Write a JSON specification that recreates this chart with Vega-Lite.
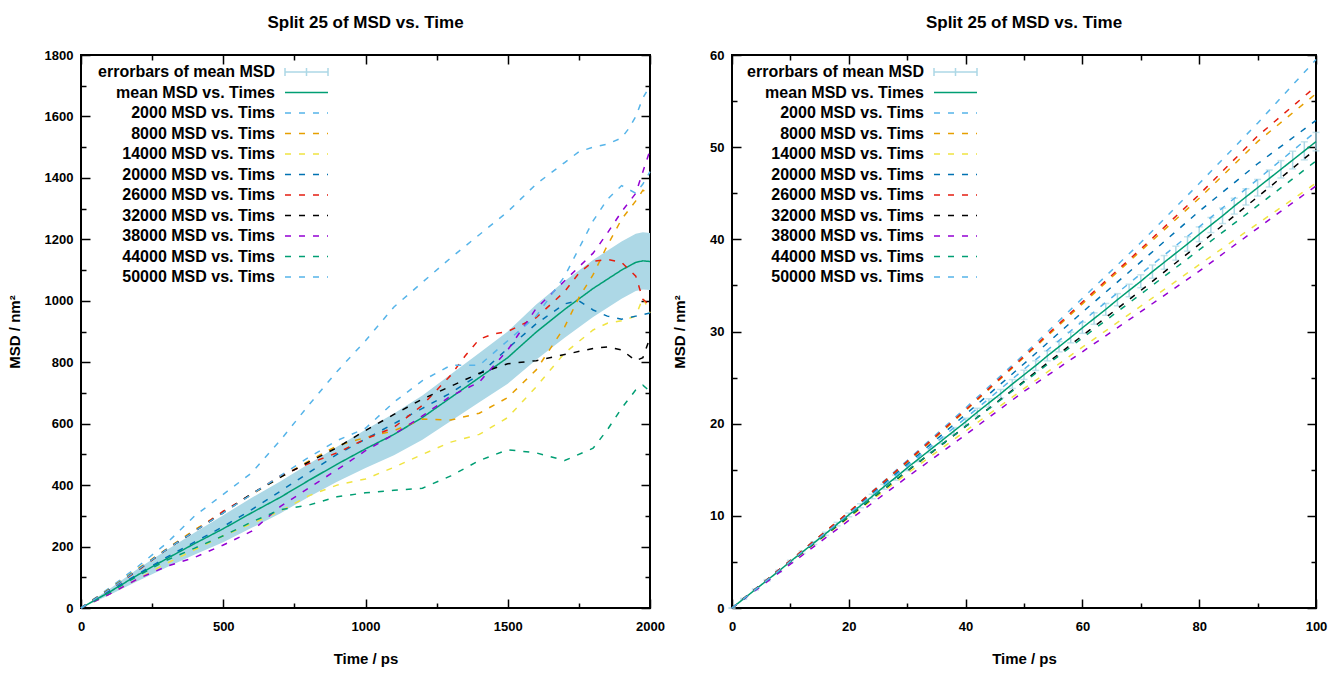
{
  "$schema": "https://vega.github.io/schema/vega-lite/v6.json",
  "background": "white",
  "padding": {"left": 6, "top": 13, "right": 5, "bottom": 5},
  "spacing": 5,
  "datasets": {
    "leftMean": [
      {"s": "mean MSD vs. Times", "t": 0, "msd": 0, "lo": 0, "hi": 0},
      {"s": "mean MSD vs. Times", "t": 100, "msd": 52, "lo": 42, "hi": 62},
      {"s": "mean MSD vs. Times", "t": 200, "msd": 108, "lo": 88, "hi": 128},
      {"s": "mean MSD vs. Times", "t": 300, "msd": 160, "lo": 132, "hi": 188},
      {"s": "mean MSD vs. Times", "t": 400, "msd": 210, "lo": 174, "hi": 246},
      {"s": "mean MSD vs. Times", "t": 500, "msd": 258, "lo": 214, "hi": 302},
      {"s": "mean MSD vs. Times", "t": 600, "msd": 310, "lo": 261, "hi": 359},
      {"s": "mean MSD vs. Times", "t": 700, "msd": 360, "lo": 308, "hi": 412},
      {"s": "mean MSD vs. Times", "t": 800, "msd": 415, "lo": 361, "hi": 469},
      {"s": "mean MSD vs. Times", "t": 900, "msd": 468, "lo": 411, "hi": 525},
      {"s": "mean MSD vs. Times", "t": 1000, "msd": 518, "lo": 456, "hi": 580},
      {"s": "mean MSD vs. Times", "t": 1100, "msd": 565, "lo": 497, "hi": 633},
      {"s": "mean MSD vs. Times", "t": 1200, "msd": 620, "lo": 548, "hi": 692},
      {"s": "mean MSD vs. Times", "t": 1300, "msd": 685, "lo": 609, "hi": 761},
      {"s": "mean MSD vs. Times", "t": 1400, "msd": 750, "lo": 670, "hi": 830},
      {"s": "mean MSD vs. Times", "t": 1500, "msd": 815, "lo": 730, "hi": 900},
      {"s": "mean MSD vs. Times", "t": 1600, "msd": 898, "lo": 808, "hi": 988},
      {"s": "mean MSD vs. Times", "t": 1700, "msd": 972, "lo": 880, "hi": 1064},
      {"s": "mean MSD vs. Times", "t": 1800, "msd": 1040, "lo": 947, "hi": 1133},
      {"s": "mean MSD vs. Times", "t": 1900, "msd": 1100, "lo": 1007, "hi": 1193},
      {"s": "mean MSD vs. Times", "t": 1950, "msd": 1125, "lo": 1032, "hi": 1218},
      {"s": "mean MSD vs. Times", "t": 1975, "msd": 1130, "lo": 1037, "hi": 1223},
      {"s": "mean MSD vs. Times", "t": 2000, "msd": 1128, "lo": 1035, "hi": 1221}
    ],
    "leftLines": [
      {"s": "2000 MSD vs. Tims", "t": 0, "v": 0}, {"s": "2000 MSD vs. Tims", "t": 100, "v": 65}, {"s": "2000 MSD vs. Tims", "t": 200, "v": 135}, {"s": "2000 MSD vs. Tims", "t": 300, "v": 210}, {"s": "2000 MSD vs. Tims", "t": 400, "v": 300}, {"s": "2000 MSD vs. Tims", "t": 500, "v": 370}, {"s": "2000 MSD vs. Tims", "t": 600, "v": 440}, {"s": "2000 MSD vs. Tims", "t": 700, "v": 545}, {"s": "2000 MSD vs. Tims", "t": 800, "v": 660}, {"s": "2000 MSD vs. Tims", "t": 900, "v": 770}, {"s": "2000 MSD vs. Tims", "t": 1000, "v": 870}, {"s": "2000 MSD vs. Tims", "t": 1100, "v": 980}, {"s": "2000 MSD vs. Tims", "t": 1200, "v": 1060}, {"s": "2000 MSD vs. Tims", "t": 1300, "v": 1140}, {"s": "2000 MSD vs. Tims", "t": 1400, "v": 1215}, {"s": "2000 MSD vs. Tims", "t": 1500, "v": 1290}, {"s": "2000 MSD vs. Tims", "t": 1600, "v": 1380}, {"s": "2000 MSD vs. Tims", "t": 1700, "v": 1450}, {"s": "2000 MSD vs. Tims", "t": 1750, "v": 1485}, {"s": "2000 MSD vs. Tims", "t": 1800, "v": 1500}, {"s": "2000 MSD vs. Tims", "t": 1850, "v": 1510}, {"s": "2000 MSD vs. Tims", "t": 1900, "v": 1530}, {"s": "2000 MSD vs. Tims", "t": 1925, "v": 1560}, {"s": "2000 MSD vs. Tims", "t": 1950, "v": 1600}, {"s": "2000 MSD vs. Tims", "t": 1975, "v": 1660}, {"s": "2000 MSD vs. Tims", "t": 2000, "v": 1700},
      {"s": "8000 MSD vs. Tims", "t": 0, "v": 0}, {"s": "8000 MSD vs. Tims", "t": 100, "v": 62}, {"s": "8000 MSD vs. Tims", "t": 200, "v": 128}, {"s": "8000 MSD vs. Tims", "t": 300, "v": 192}, {"s": "8000 MSD vs. Tims", "t": 400, "v": 255}, {"s": "8000 MSD vs. Tims", "t": 500, "v": 312}, {"s": "8000 MSD vs. Tims", "t": 600, "v": 370}, {"s": "8000 MSD vs. Tims", "t": 700, "v": 425}, {"s": "8000 MSD vs. Tims", "t": 800, "v": 478}, {"s": "8000 MSD vs. Tims", "t": 900, "v": 528}, {"s": "8000 MSD vs. Tims", "t": 1000, "v": 555}, {"s": "8000 MSD vs. Tims", "t": 1100, "v": 577}, {"s": "8000 MSD vs. Tims", "t": 1200, "v": 615}, {"s": "8000 MSD vs. Tims", "t": 1300, "v": 612}, {"s": "8000 MSD vs. Tims", "t": 1400, "v": 634}, {"s": "8000 MSD vs. Tims", "t": 1500, "v": 685}, {"s": "8000 MSD vs. Tims", "t": 1600, "v": 775}, {"s": "8000 MSD vs. Tims", "t": 1700, "v": 915}, {"s": "8000 MSD vs. Tims", "t": 1750, "v": 1010}, {"s": "8000 MSD vs. Tims", "t": 1800, "v": 1085}, {"s": "8000 MSD vs. Tims", "t": 1850, "v": 1180}, {"s": "8000 MSD vs. Tims", "t": 1900, "v": 1265}, {"s": "8000 MSD vs. Tims", "t": 1950, "v": 1325}, {"s": "8000 MSD vs. Tims", "t": 1975, "v": 1360}, {"s": "8000 MSD vs. Tims", "t": 2000, "v": 1350},
      {"s": "14000 MSD vs. Tims", "t": 0, "v": 0}, {"s": "14000 MSD vs. Tims", "t": 100, "v": 45}, {"s": "14000 MSD vs. Tims", "t": 200, "v": 95}, {"s": "14000 MSD vs. Tims", "t": 300, "v": 145}, {"s": "14000 MSD vs. Tims", "t": 400, "v": 190}, {"s": "14000 MSD vs. Tims", "t": 500, "v": 235}, {"s": "14000 MSD vs. Tims", "t": 600, "v": 275}, {"s": "14000 MSD vs. Tims", "t": 700, "v": 315}, {"s": "14000 MSD vs. Tims", "t": 800, "v": 365}, {"s": "14000 MSD vs. Tims", "t": 900, "v": 400}, {"s": "14000 MSD vs. Tims", "t": 1000, "v": 420}, {"s": "14000 MSD vs. Tims", "t": 1100, "v": 458}, {"s": "14000 MSD vs. Tims", "t": 1200, "v": 500}, {"s": "14000 MSD vs. Tims", "t": 1300, "v": 540}, {"s": "14000 MSD vs. Tims", "t": 1400, "v": 565}, {"s": "14000 MSD vs. Tims", "t": 1500, "v": 620}, {"s": "14000 MSD vs. Tims", "t": 1600, "v": 720}, {"s": "14000 MSD vs. Tims", "t": 1700, "v": 830}, {"s": "14000 MSD vs. Tims", "t": 1800, "v": 905}, {"s": "14000 MSD vs. Tims", "t": 1850, "v": 927}, {"s": "14000 MSD vs. Tims", "t": 1900, "v": 935}, {"s": "14000 MSD vs. Tims", "t": 1950, "v": 950}, {"s": "14000 MSD vs. Tims", "t": 1975, "v": 1010}, {"s": "14000 MSD vs. Tims", "t": 2000, "v": 960},
      {"s": "20000 MSD vs. Tims", "t": 0, "v": 0}, {"s": "20000 MSD vs. Tims", "t": 100, "v": 55}, {"s": "20000 MSD vs. Tims", "t": 200, "v": 110}, {"s": "20000 MSD vs. Tims", "t": 300, "v": 165}, {"s": "20000 MSD vs. Tims", "t": 400, "v": 215}, {"s": "20000 MSD vs. Tims", "t": 500, "v": 265}, {"s": "20000 MSD vs. Tims", "t": 600, "v": 320}, {"s": "20000 MSD vs. Tims", "t": 700, "v": 380}, {"s": "20000 MSD vs. Tims", "t": 800, "v": 440}, {"s": "20000 MSD vs. Tims", "t": 900, "v": 500}, {"s": "20000 MSD vs. Tims", "t": 1000, "v": 550}, {"s": "20000 MSD vs. Tims", "t": 1100, "v": 600}, {"s": "20000 MSD vs. Tims", "t": 1200, "v": 650}, {"s": "20000 MSD vs. Tims", "t": 1300, "v": 700}, {"s": "20000 MSD vs. Tims", "t": 1400, "v": 760}, {"s": "20000 MSD vs. Tims", "t": 1500, "v": 845}, {"s": "20000 MSD vs. Tims", "t": 1600, "v": 925}, {"s": "20000 MSD vs. Tims", "t": 1700, "v": 990}, {"s": "20000 MSD vs. Tims", "t": 1750, "v": 1000}, {"s": "20000 MSD vs. Tims", "t": 1800, "v": 970}, {"s": "20000 MSD vs. Tims", "t": 1850, "v": 950}, {"s": "20000 MSD vs. Tims", "t": 1900, "v": 940}, {"s": "20000 MSD vs. Tims", "t": 1950, "v": 950}, {"s": "20000 MSD vs. Tims", "t": 2000, "v": 960},
      {"s": "26000 MSD vs. Tims", "t": 0, "v": 0}, {"s": "26000 MSD vs. Tims", "t": 100, "v": 60}, {"s": "26000 MSD vs. Tims", "t": 200, "v": 122}, {"s": "26000 MSD vs. Tims", "t": 300, "v": 190}, {"s": "26000 MSD vs. Tims", "t": 400, "v": 250}, {"s": "26000 MSD vs. Tims", "t": 500, "v": 315}, {"s": "26000 MSD vs. Tims", "t": 600, "v": 370}, {"s": "26000 MSD vs. Tims", "t": 700, "v": 430}, {"s": "26000 MSD vs. Tims", "t": 800, "v": 470}, {"s": "26000 MSD vs. Tims", "t": 900, "v": 505}, {"s": "26000 MSD vs. Tims", "t": 1000, "v": 550}, {"s": "26000 MSD vs. Tims", "t": 1100, "v": 588}, {"s": "26000 MSD vs. Tims", "t": 1200, "v": 660}, {"s": "26000 MSD vs. Tims", "t": 1300, "v": 758}, {"s": "26000 MSD vs. Tims", "t": 1350, "v": 820}, {"s": "26000 MSD vs. Tims", "t": 1400, "v": 875}, {"s": "26000 MSD vs. Tims", "t": 1450, "v": 892}, {"s": "26000 MSD vs. Tims", "t": 1500, "v": 900}, {"s": "26000 MSD vs. Tims", "t": 1600, "v": 945}, {"s": "26000 MSD vs. Tims", "t": 1700, "v": 1030}, {"s": "26000 MSD vs. Tims", "t": 1750, "v": 1090}, {"s": "26000 MSD vs. Tims", "t": 1800, "v": 1128}, {"s": "26000 MSD vs. Tims", "t": 1850, "v": 1135}, {"s": "26000 MSD vs. Tims", "t": 1900, "v": 1125}, {"s": "26000 MSD vs. Tims", "t": 1950, "v": 1080}, {"s": "26000 MSD vs. Tims", "t": 1975, "v": 1005}, {"s": "26000 MSD vs. Tims", "t": 2000, "v": 985},
      {"s": "32000 MSD vs. Tims", "t": 0, "v": 0}, {"s": "32000 MSD vs. Tims", "t": 100, "v": 60}, {"s": "32000 MSD vs. Tims", "t": 200, "v": 125}, {"s": "32000 MSD vs. Tims", "t": 300, "v": 190}, {"s": "32000 MSD vs. Tims", "t": 400, "v": 250}, {"s": "32000 MSD vs. Tims", "t": 500, "v": 310}, {"s": "32000 MSD vs. Tims", "t": 600, "v": 372}, {"s": "32000 MSD vs. Tims", "t": 700, "v": 425}, {"s": "32000 MSD vs. Tims", "t": 800, "v": 475}, {"s": "32000 MSD vs. Tims", "t": 900, "v": 522}, {"s": "32000 MSD vs. Tims", "t": 1000, "v": 578}, {"s": "32000 MSD vs. Tims", "t": 1100, "v": 630}, {"s": "32000 MSD vs. Tims", "t": 1200, "v": 680}, {"s": "32000 MSD vs. Tims", "t": 1300, "v": 722}, {"s": "32000 MSD vs. Tims", "t": 1400, "v": 764}, {"s": "32000 MSD vs. Tims", "t": 1500, "v": 795}, {"s": "32000 MSD vs. Tims", "t": 1600, "v": 805}, {"s": "32000 MSD vs. Tims", "t": 1700, "v": 825}, {"s": "32000 MSD vs. Tims", "t": 1800, "v": 845}, {"s": "32000 MSD vs. Tims", "t": 1850, "v": 850}, {"s": "32000 MSD vs. Tims", "t": 1900, "v": 840}, {"s": "32000 MSD vs. Tims", "t": 1950, "v": 805}, {"s": "32000 MSD vs. Tims", "t": 1975, "v": 815}, {"s": "32000 MSD vs. Tims", "t": 2000, "v": 880},
      {"s": "38000 MSD vs. Tims", "t": 0, "v": 0}, {"s": "38000 MSD vs. Tims", "t": 100, "v": 45}, {"s": "38000 MSD vs. Tims", "t": 200, "v": 95}, {"s": "38000 MSD vs. Tims", "t": 300, "v": 135}, {"s": "38000 MSD vs. Tims", "t": 400, "v": 165}, {"s": "38000 MSD vs. Tims", "t": 500, "v": 205}, {"s": "38000 MSD vs. Tims", "t": 600, "v": 250}, {"s": "38000 MSD vs. Tims", "t": 700, "v": 330}, {"s": "38000 MSD vs. Tims", "t": 800, "v": 390}, {"s": "38000 MSD vs. Tims", "t": 900, "v": 450}, {"s": "38000 MSD vs. Tims", "t": 1000, "v": 512}, {"s": "38000 MSD vs. Tims", "t": 1100, "v": 565}, {"s": "38000 MSD vs. Tims", "t": 1200, "v": 625}, {"s": "38000 MSD vs. Tims", "t": 1300, "v": 690}, {"s": "38000 MSD vs. Tims", "t": 1400, "v": 735}, {"s": "38000 MSD vs. Tims", "t": 1500, "v": 840}, {"s": "38000 MSD vs. Tims", "t": 1600, "v": 975}, {"s": "38000 MSD vs. Tims", "t": 1700, "v": 1065}, {"s": "38000 MSD vs. Tims", "t": 1800, "v": 1155}, {"s": "38000 MSD vs. Tims", "t": 1850, "v": 1220}, {"s": "38000 MSD vs. Tims", "t": 1900, "v": 1290}, {"s": "38000 MSD vs. Tims", "t": 1950, "v": 1350}, {"s": "38000 MSD vs. Tims", "t": 1975, "v": 1420}, {"s": "38000 MSD vs. Tims", "t": 2000, "v": 1490},
      {"s": "44000 MSD vs. Tims", "t": 0, "v": 0}, {"s": "44000 MSD vs. Tims", "t": 100, "v": 50}, {"s": "44000 MSD vs. Tims", "t": 200, "v": 105}, {"s": "44000 MSD vs. Tims", "t": 300, "v": 155}, {"s": "44000 MSD vs. Tims", "t": 400, "v": 195}, {"s": "44000 MSD vs. Tims", "t": 500, "v": 235}, {"s": "44000 MSD vs. Tims", "t": 600, "v": 280}, {"s": "44000 MSD vs. Tims", "t": 700, "v": 320}, {"s": "44000 MSD vs. Tims", "t": 800, "v": 335}, {"s": "44000 MSD vs. Tims", "t": 900, "v": 362}, {"s": "44000 MSD vs. Tims", "t": 1000, "v": 375}, {"s": "44000 MSD vs. Tims", "t": 1100, "v": 383}, {"s": "44000 MSD vs. Tims", "t": 1200, "v": 390}, {"s": "44000 MSD vs. Tims", "t": 1300, "v": 430}, {"s": "44000 MSD vs. Tims", "t": 1400, "v": 480}, {"s": "44000 MSD vs. Tims", "t": 1500, "v": 515}, {"s": "44000 MSD vs. Tims", "t": 1600, "v": 505}, {"s": "44000 MSD vs. Tims", "t": 1700, "v": 480}, {"s": "44000 MSD vs. Tims", "t": 1800, "v": 520}, {"s": "44000 MSD vs. Tims", "t": 1850, "v": 580}, {"s": "44000 MSD vs. Tims", "t": 1900, "v": 650}, {"s": "44000 MSD vs. Tims", "t": 1950, "v": 710}, {"s": "44000 MSD vs. Tims", "t": 1975, "v": 725}, {"s": "44000 MSD vs. Tims", "t": 2000, "v": 705},
      {"s": "50000 MSD vs. Tims", "t": 0, "v": 0}, {"s": "50000 MSD vs. Tims", "t": 100, "v": 60}, {"s": "50000 MSD vs. Tims", "t": 200, "v": 125}, {"s": "50000 MSD vs. Tims", "t": 300, "v": 190}, {"s": "50000 MSD vs. Tims", "t": 400, "v": 250}, {"s": "50000 MSD vs. Tims", "t": 500, "v": 310}, {"s": "50000 MSD vs. Tims", "t": 600, "v": 370}, {"s": "50000 MSD vs. Tims", "t": 700, "v": 430}, {"s": "50000 MSD vs. Tims", "t": 800, "v": 490}, {"s": "50000 MSD vs. Tims", "t": 900, "v": 545}, {"s": "50000 MSD vs. Tims", "t": 1000, "v": 585}, {"s": "50000 MSD vs. Tims", "t": 1100, "v": 670}, {"s": "50000 MSD vs. Tims", "t": 1200, "v": 740}, {"s": "50000 MSD vs. Tims", "t": 1300, "v": 790}, {"s": "50000 MSD vs. Tims", "t": 1400, "v": 790}, {"s": "50000 MSD vs. Tims", "t": 1500, "v": 870}, {"s": "50000 MSD vs. Tims", "t": 1600, "v": 950}, {"s": "50000 MSD vs. Tims", "t": 1700, "v": 1080}, {"s": "50000 MSD vs. Tims", "t": 1750, "v": 1170}, {"s": "50000 MSD vs. Tims", "t": 1800, "v": 1260}, {"s": "50000 MSD vs. Tims", "t": 1850, "v": 1330}, {"s": "50000 MSD vs. Tims", "t": 1900, "v": 1375}, {"s": "50000 MSD vs. Tims", "t": 1950, "v": 1350}, {"s": "50000 MSD vs. Tims", "t": 1975, "v": 1380}, {"s": "50000 MSD vs. Tims", "t": 2000, "v": 1420}
    ],
    "rightMean": [
      {"s": "mean MSD vs. Times", "t": 0, "msd": 0, "lo": 0, "hi": 0},
      {"s": "mean MSD vs. Times", "t": 2, "msd": 1.0, "lo": 0.95, "hi": 1.05},
      {"s": "mean MSD vs. Times", "t": 4, "msd": 2.0, "lo": 1.93, "hi": 2.07},
      {"s": "mean MSD vs. Times", "t": 6, "msd": 3.0, "lo": 2.92, "hi": 3.08},
      {"s": "mean MSD vs. Times", "t": 8, "msd": 4.0, "lo": 3.9, "hi": 4.1},
      {"s": "mean MSD vs. Times", "t": 10, "msd": 5.05, "lo": 4.93, "hi": 5.17},
      {"s": "mean MSD vs. Times", "t": 12, "msd": 6.05, "lo": 5.91, "hi": 6.19},
      {"s": "mean MSD vs. Times", "t": 14, "msd": 7.05, "lo": 6.9, "hi": 7.2},
      {"s": "mean MSD vs. Times", "t": 16, "msd": 8.05, "lo": 7.88, "hi": 8.22},
      {"s": "mean MSD vs. Times", "t": 18, "msd": 9.1, "lo": 8.91, "hi": 9.29},
      {"s": "mean MSD vs. Times", "t": 20, "msd": 10.1, "lo": 9.9, "hi": 10.3},
      {"s": "mean MSD vs. Times", "t": 22, "msd": 11.1, "lo": 10.88, "hi": 11.32},
      {"s": "mean MSD vs. Times", "t": 24, "msd": 12.1, "lo": 11.86, "hi": 12.34},
      {"s": "mean MSD vs. Times", "t": 26, "msd": 13.15, "lo": 12.89, "hi": 13.41},
      {"s": "mean MSD vs. Times", "t": 28, "msd": 14.15, "lo": 13.87, "hi": 14.43},
      {"s": "mean MSD vs. Times", "t": 30, "msd": 15.2, "lo": 14.9, "hi": 15.5},
      {"s": "mean MSD vs. Times", "t": 32, "msd": 16.2, "lo": 15.88, "hi": 16.52},
      {"s": "mean MSD vs. Times", "t": 34, "msd": 17.2, "lo": 16.86, "hi": 17.54},
      {"s": "mean MSD vs. Times", "t": 36, "msd": 18.2, "lo": 17.84, "hi": 18.56},
      {"s": "mean MSD vs. Times", "t": 38, "msd": 19.2, "lo": 18.82, "hi": 19.58},
      {"s": "mean MSD vs. Times", "t": 40, "msd": 20.2, "lo": 19.8, "hi": 20.6},
      {"s": "mean MSD vs. Times", "t": 42, "msd": 21.25, "lo": 20.83, "hi": 21.67},
      {"s": "mean MSD vs. Times", "t": 44, "msd": 22.25, "lo": 21.81, "hi": 22.69},
      {"s": "mean MSD vs. Times", "t": 46, "msd": 23.25, "lo": 22.79, "hi": 23.71},
      {"s": "mean MSD vs. Times", "t": 48, "msd": 24.3, "lo": 23.82, "hi": 24.78},
      {"s": "mean MSD vs. Times", "t": 50, "msd": 25.3, "lo": 24.8, "hi": 25.8},
      {"s": "mean MSD vs. Times", "t": 52, "msd": 26.3, "lo": 25.78, "hi": 26.82},
      {"s": "mean MSD vs. Times", "t": 54, "msd": 27.35, "lo": 26.81, "hi": 27.89},
      {"s": "mean MSD vs. Times", "t": 56, "msd": 28.35, "lo": 27.79, "hi": 28.91},
      {"s": "mean MSD vs. Times", "t": 58, "msd": 29.35, "lo": 28.77, "hi": 29.93},
      {"s": "mean MSD vs. Times", "t": 60, "msd": 30.4, "lo": 29.8, "hi": 31.0},
      {"s": "mean MSD vs. Times", "t": 62, "msd": 31.4, "lo": 30.78, "hi": 32.02},
      {"s": "mean MSD vs. Times", "t": 64, "msd": 32.4, "lo": 31.76, "hi": 33.04},
      {"s": "mean MSD vs. Times", "t": 66, "msd": 33.45, "lo": 32.79, "hi": 34.11},
      {"s": "mean MSD vs. Times", "t": 68, "msd": 34.45, "lo": 33.77, "hi": 35.13},
      {"s": "mean MSD vs. Times", "t": 70, "msd": 35.45, "lo": 34.75, "hi": 36.15},
      {"s": "mean MSD vs. Times", "t": 72, "msd": 36.5, "lo": 35.78, "hi": 37.22},
      {"s": "mean MSD vs. Times", "t": 74, "msd": 37.5, "lo": 36.76, "hi": 38.24},
      {"s": "mean MSD vs. Times", "t": 76, "msd": 38.5, "lo": 37.74, "hi": 39.26},
      {"s": "mean MSD vs. Times", "t": 78, "msd": 39.5, "lo": 38.72, "hi": 40.28},
      {"s": "mean MSD vs. Times", "t": 80, "msd": 40.55, "lo": 39.75, "hi": 41.35},
      {"s": "mean MSD vs. Times", "t": 82, "msd": 41.55, "lo": 40.73, "hi": 42.37},
      {"s": "mean MSD vs. Times", "t": 84, "msd": 42.55, "lo": 41.71, "hi": 43.39},
      {"s": "mean MSD vs. Times", "t": 86, "msd": 43.6, "lo": 42.74, "hi": 44.46},
      {"s": "mean MSD vs. Times", "t": 88, "msd": 44.6, "lo": 43.72, "hi": 45.48},
      {"s": "mean MSD vs. Times", "t": 90, "msd": 45.6, "lo": 44.7, "hi": 46.5},
      {"s": "mean MSD vs. Times", "t": 92, "msd": 46.6, "lo": 45.68, "hi": 47.52},
      {"s": "mean MSD vs. Times", "t": 94, "msd": 47.6, "lo": 46.66, "hi": 48.54},
      {"s": "mean MSD vs. Times", "t": 96, "msd": 48.6, "lo": 47.64, "hi": 49.56},
      {"s": "mean MSD vs. Times", "t": 98, "msd": 49.6, "lo": 48.62, "hi": 50.58},
      {"s": "mean MSD vs. Times", "t": 100, "msd": 50.6, "lo": 49.6, "hi": 51.6}
    ],
    "rightLines": [
      {"s": "2000 MSD vs. Tims", "t": 0, "v": 0}, {"s": "2000 MSD vs. Tims", "t": 10, "v": 5.15}, {"s": "2000 MSD vs. Tims", "t": 20, "v": 10.4}, {"s": "2000 MSD vs. Tims", "t": 30, "v": 16.0}, {"s": "2000 MSD vs. Tims", "t": 40, "v": 21.7}, {"s": "2000 MSD vs. Tims", "t": 50, "v": 27.5}, {"s": "2000 MSD vs. Tims", "t": 60, "v": 33.6}, {"s": "2000 MSD vs. Tims", "t": 70, "v": 39.65}, {"s": "2000 MSD vs. Tims", "t": 80, "v": 46.05}, {"s": "2000 MSD vs. Tims", "t": 90, "v": 52.6}, {"s": "2000 MSD vs. Tims", "t": 100, "v": 59.5},
      {"s": "8000 MSD vs. Tims", "t": 0, "v": 0}, {"s": "8000 MSD vs. Tims", "t": 10, "v": 5.15}, {"s": "8000 MSD vs. Tims", "t": 20, "v": 10.4}, {"s": "8000 MSD vs. Tims", "t": 30, "v": 15.8}, {"s": "8000 MSD vs. Tims", "t": 40, "v": 21.4}, {"s": "8000 MSD vs. Tims", "t": 50, "v": 27.2}, {"s": "8000 MSD vs. Tims", "t": 60, "v": 33.0}, {"s": "8000 MSD vs. Tims", "t": 70, "v": 38.75}, {"s": "8000 MSD vs. Tims", "t": 80, "v": 44.45}, {"s": "8000 MSD vs. Tims", "t": 90, "v": 50.6}, {"s": "8000 MSD vs. Tims", "t": 100, "v": 55.8},
      {"s": "14000 MSD vs. Tims", "t": 0, "v": 0}, {"s": "14000 MSD vs. Tims", "t": 10, "v": 4.95}, {"s": "14000 MSD vs. Tims", "t": 20, "v": 9.8}, {"s": "14000 MSD vs. Tims", "t": 30, "v": 14.6}, {"s": "14000 MSD vs. Tims", "t": 40, "v": 19.2}, {"s": "14000 MSD vs. Tims", "t": 50, "v": 23.8}, {"s": "14000 MSD vs. Tims", "t": 60, "v": 28.3}, {"s": "14000 MSD vs. Tims", "t": 70, "v": 32.75}, {"s": "14000 MSD vs. Tims", "t": 80, "v": 37.25}, {"s": "14000 MSD vs. Tims", "t": 90, "v": 41.7}, {"s": "14000 MSD vs. Tims", "t": 100, "v": 46.1},
      {"s": "20000 MSD vs. Tims", "t": 0, "v": 0}, {"s": "20000 MSD vs. Tims", "t": 10, "v": 5.15}, {"s": "20000 MSD vs. Tims", "t": 20, "v": 10.3}, {"s": "20000 MSD vs. Tims", "t": 30, "v": 15.6}, {"s": "20000 MSD vs. Tims", "t": 40, "v": 21.0}, {"s": "20000 MSD vs. Tims", "t": 50, "v": 26.5}, {"s": "20000 MSD vs. Tims", "t": 60, "v": 32.1}, {"s": "20000 MSD vs. Tims", "t": 70, "v": 37.55}, {"s": "20000 MSD vs. Tims", "t": 80, "v": 43.05}, {"s": "20000 MSD vs. Tims", "t": 90, "v": 48.2}, {"s": "20000 MSD vs. Tims", "t": 100, "v": 52.9},
      {"s": "26000 MSD vs. Tims", "t": 0, "v": 0}, {"s": "26000 MSD vs. Tims", "t": 10, "v": 5.15}, {"s": "26000 MSD vs. Tims", "t": 20, "v": 10.4}, {"s": "26000 MSD vs. Tims", "t": 30, "v": 15.9}, {"s": "26000 MSD vs. Tims", "t": 40, "v": 21.5}, {"s": "26000 MSD vs. Tims", "t": 50, "v": 27.3}, {"s": "26000 MSD vs. Tims", "t": 60, "v": 33.2}, {"s": "26000 MSD vs. Tims", "t": 70, "v": 38.95}, {"s": "26000 MSD vs. Tims", "t": 80, "v": 44.85}, {"s": "26000 MSD vs. Tims", "t": 90, "v": 51.2}, {"s": "26000 MSD vs. Tims", "t": 100, "v": 56.6},
      {"s": "32000 MSD vs. Tims", "t": 0, "v": 0}, {"s": "32000 MSD vs. Tims", "t": 10, "v": 5.0}, {"s": "32000 MSD vs. Tims", "t": 20, "v": 9.9}, {"s": "32000 MSD vs. Tims", "t": 30, "v": 14.85}, {"s": "32000 MSD vs. Tims", "t": 40, "v": 19.7}, {"s": "32000 MSD vs. Tims", "t": 50, "v": 24.6}, {"s": "32000 MSD vs. Tims", "t": 60, "v": 29.55}, {"s": "32000 MSD vs. Tims", "t": 70, "v": 34.45}, {"s": "32000 MSD vs. Tims", "t": 80, "v": 39.45}, {"s": "32000 MSD vs. Tims", "t": 90, "v": 44.6}, {"s": "32000 MSD vs. Tims", "t": 100, "v": 49.8},
      {"s": "38000 MSD vs. Tims", "t": 0, "v": 0}, {"s": "38000 MSD vs. Tims", "t": 10, "v": 4.75}, {"s": "38000 MSD vs. Tims", "t": 20, "v": 9.5}, {"s": "38000 MSD vs. Tims", "t": 30, "v": 14.2}, {"s": "38000 MSD vs. Tims", "t": 40, "v": 18.8}, {"s": "38000 MSD vs. Tims", "t": 50, "v": 23.5}, {"s": "38000 MSD vs. Tims", "t": 60, "v": 27.8}, {"s": "38000 MSD vs. Tims", "t": 70, "v": 32.15}, {"s": "38000 MSD vs. Tims", "t": 80, "v": 36.55}, {"s": "38000 MSD vs. Tims", "t": 90, "v": 41.2}, {"s": "38000 MSD vs. Tims", "t": 100, "v": 45.8},
      {"s": "44000 MSD vs. Tims", "t": 0, "v": 0}, {"s": "44000 MSD vs. Tims", "t": 10, "v": 5.0}, {"s": "44000 MSD vs. Tims", "t": 20, "v": 9.95}, {"s": "44000 MSD vs. Tims", "t": 30, "v": 14.9}, {"s": "44000 MSD vs. Tims", "t": 40, "v": 19.7}, {"s": "44000 MSD vs. Tims", "t": 50, "v": 24.5}, {"s": "44000 MSD vs. Tims", "t": 60, "v": 29.3}, {"s": "44000 MSD vs. Tims", "t": 70, "v": 34.05}, {"s": "44000 MSD vs. Tims", "t": 80, "v": 38.85}, {"s": "44000 MSD vs. Tims", "t": 90, "v": 43.65}, {"s": "44000 MSD vs. Tims", "t": 100, "v": 48.5},
      {"s": "50000 MSD vs. Tims", "t": 0, "v": 0}, {"s": "50000 MSD vs. Tims", "t": 10, "v": 5.05}, {"s": "50000 MSD vs. Tims", "t": 20, "v": 10.2}, {"s": "50000 MSD vs. Tims", "t": 30, "v": 15.4}, {"s": "50000 MSD vs. Tims", "t": 40, "v": 20.6}, {"s": "50000 MSD vs. Tims", "t": 50, "v": 25.9}, {"s": "50000 MSD vs. Tims", "t": 60, "v": 31.1}, {"s": "50000 MSD vs. Tims", "t": 70, "v": 36.25}, {"s": "50000 MSD vs. Tims", "t": 80, "v": 41.35}, {"s": "50000 MSD vs. Tims", "t": 90, "v": 46.5}, {"s": "50000 MSD vs. Tims", "t": 100, "v": 51.7}
    ]
  },
  "hconcat": [
    {
      "width": 569,
      "height": 553,
      "title": {"text": "Split 25 of MSD vs. Time"},
      "resolve": {"axis": {"x": "independent", "y": "independent"}},
      "layer": [
        {
          "data": {"name": "leftMean"},
          "mark": {"type": "area", "color": "#add8e6", "opacity": 1},
          "encoding": {
            "x": {"field": "t", "type": "quantitative", "scale": {"domain": [0, 2000]}, "axis": null},
            "y": {"field": "lo", "type": "quantitative", "scale": {"domain": [0, 1800]}, "axis": null},
            "y2": {"field": "hi"}
          }
        },
        {
          "data": {"name": "leftMean"},
          "mark": {"type": "line", "strokeWidth": 1.5},
          "encoding": {
            "x": {"field": "t", "type": "quantitative", "title": "Time / ps",
              "axis": {"orient": "bottom", "format": "d", "values": [0, 250, 500, 750, 1000, 1250, 1500, 1750, 2000],
                "tickSize": {"condition": {"test": "datum.value % 500 === 0", "value": -9}, "value": -5},
                "labelExpr": "datum.value % 500 === 0 ? datum.label : ''", "labelPadding": 21, "titlePadding": 14}},
            "y": {"field": "msd", "type": "quantitative", "title": "MSD / nm²",
              "axis": {"orient": "left", "format": "d", "values": [0, 100, 200, 300, 400, 500, 600, 700, 800, 900, 1000, 1100, 1200, 1300, 1400, 1500, 1600, 1700, 1800],
                "tickSize": {"condition": {"test": "datum.value % 200 === 0", "value": -9}, "value": -5},
                "labelExpr": "datum.value % 200 === 0 ? datum.label : ''", "labelPadding": 17, "titlePadding": 22}},
            "color": {"field": "s", "type": "nominal",
              "scale": {"domain": ["errorbars of mean MSD", "mean MSD vs. Times", "2000 MSD vs. Tims", "8000 MSD vs. Tims", "14000 MSD vs. Tims", "20000 MSD vs. Tims", "26000 MSD vs. Tims", "32000 MSD vs. Tims", "38000 MSD vs. Tims", "44000 MSD vs. Tims", "50000 MSD vs. Tims"],
                "range": ["#add8e6", "#009e73", "#56b4e9", "#e69f00", "#f0e442", "#0072b2", "#e51e10", "#000000", "#9400d3", "#009e73", "#56b4e9"]},
              "legend": {"orient": "none", "legendX": 18, "legendY": 9, "title": null, "symbolType": "M-4.3,0H4.3",
                "encode": {"labels": {"update": {"x": {"value": 176}, "align": {"value": "right"}}},
                  "symbols": {"update": {"x": {"value": 207.5}, "shape": {"signal": "datum.value === 'errorbars of mean MSD' ? 'M-4.3,0H4.3M-4.3,-0.8V0.8M4.3,-0.8V0.8M0,-0.8V0.8' : 'M-4.3,0H4.3'"}}}}}},
            "strokeDash": {"field": "s", "type": "nominal",
              "scale": {"domain": ["errorbars of mean MSD", "mean MSD vs. Times", "2000 MSD vs. Tims", "8000 MSD vs. Tims", "14000 MSD vs. Tims", "20000 MSD vs. Tims", "26000 MSD vs. Tims", "32000 MSD vs. Tims", "38000 MSD vs. Tims", "44000 MSD vs. Tims", "50000 MSD vs. Tims"],
                "range": [[1, 0], [1, 0], [6, 8], [6, 8], [6, 8], [6, 8], [6, 8], [6, 8], [6, 8], [6, 8], [6, 8]]},
              "legend": {"orient": "none", "legendX": 18, "legendY": 9, "title": null, "symbolType": "M-4.3,0H4.3",
                "encode": {"labels": {"update": {"x": {"value": 176}, "align": {"value": "right"}}},
                  "symbols": {"update": {"x": {"value": 207.5}, "shape": {"signal": "datum.value === 'errorbars of mean MSD' ? 'M-4.3,0H4.3M-4.3,-0.8V0.8M4.3,-0.8V0.8M0,-0.8V0.8' : 'M-4.3,0H4.3'"}}}}}}
          }
        },
        {
          "data": {"name": "leftLines"},
          "mark": {"type": "line", "strokeWidth": 1.5},
          "encoding": {
            "x": {"field": "t", "type": "quantitative", "title": null,
              "axis": {"orient": "top", "values": [0, 250, 500, 750, 1000, 1250, 1500, 1750, 2000], "labels": false,
                "tickSize": {"condition": {"test": "datum.value % 500 === 0", "value": -9}, "value": -5}}},
            "y": {"field": "v", "type": "quantitative", "title": null,
              "axis": {"orient": "right", "values": [0, 100, 200, 300, 400, 500, 600, 700, 800, 900, 1000, 1100, 1200, 1300, 1400, 1500, 1600, 1700, 1800], "labels": false,
                "tickSize": {"condition": {"test": "datum.value % 200 === 0", "value": -9}, "value": -5}}},
            "color": {"field": "s", "type": "nominal"},
            "strokeDash": {"field": "s", "type": "nominal"}
          }
        }
      ]
    },
    {
      "width": 584,
      "height": 553,
      "title": {"text": "Split 25 of MSD vs. Time"},
      "resolve": {"axis": {"x": "independent", "y": "independent"}},
      "layer": [
        {
          "data": {"name": "rightMean"},
          "mark": {"type": "errorbar", "color": "#add8e6", "ticks": {"size": 7, "thickness": 1.5}, "rule": {"strokeWidth": 1.5}},
          "encoding": {
            "x": {"field": "t", "type": "quantitative", "scale": {"domain": [0, 100]}, "axis": null},
            "y": {"field": "lo", "type": "quantitative", "scale": {"domain": [0, 60]}, "axis": null},
            "y2": {"field": "hi"}
          }
        },
        {
          "data": {"name": "rightMean"},
          "mark": {"type": "line", "strokeWidth": 1.5},
          "encoding": {
            "x": {"field": "t", "type": "quantitative", "title": "Time / ps",
              "axis": {"orient": "bottom", "format": "d", "values": [0, 10, 20, 30, 40, 50, 60, 70, 80, 90, 100],
                "tickSize": {"condition": {"test": "datum.value % 20 === 0", "value": -9}, "value": -5},
                "labelExpr": "datum.value % 20 === 0 ? datum.label : ''", "labelPadding": 21, "titlePadding": 14}},
            "y": {"field": "msd", "type": "quantitative", "title": "MSD / nm²",
              "axis": {"orient": "left", "format": "d", "values": [0, 5, 10, 15, 20, 25, 30, 35, 40, 45, 50, 55, 60],
                "tickSize": {"condition": {"test": "datum.value % 10 === 0", "value": -9}, "value": -5},
                "labelExpr": "datum.value % 10 === 0 ? datum.label : ''", "labelPadding": 17, "titlePadding": 22}},
            "color": {"field": "s", "type": "nominal",
              "scale": {"domain": ["errorbars of mean MSD", "mean MSD vs. Times", "2000 MSD vs. Tims", "8000 MSD vs. Tims", "14000 MSD vs. Tims", "20000 MSD vs. Tims", "26000 MSD vs. Tims", "32000 MSD vs. Tims", "38000 MSD vs. Tims", "44000 MSD vs. Tims", "50000 MSD vs. Tims"],
                "range": ["#add8e6", "#009e73", "#56b4e9", "#e69f00", "#f0e442", "#0072b2", "#e51e10", "#000000", "#9400d3", "#009e73", "#56b4e9"]},
              "legend": {"orient": "none", "legendX": 18, "legendY": 9, "title": null, "symbolType": "M-4.3,0H4.3",
                "encode": {"labels": {"update": {"x": {"value": 174}, "align": {"value": "right"}}},
                  "symbols": {"update": {"x": {"value": 205.5}, "shape": {"signal": "datum.value === 'errorbars of mean MSD' ? 'M-4.3,0H4.3M-4.3,-0.8V0.8M4.3,-0.8V0.8M0,-0.8V0.8' : 'M-4.3,0H4.3'"}}}}}},
            "strokeDash": {"field": "s", "type": "nominal",
              "scale": {"domain": ["errorbars of mean MSD", "mean MSD vs. Times", "2000 MSD vs. Tims", "8000 MSD vs. Tims", "14000 MSD vs. Tims", "20000 MSD vs. Tims", "26000 MSD vs. Tims", "32000 MSD vs. Tims", "38000 MSD vs. Tims", "44000 MSD vs. Tims", "50000 MSD vs. Tims"],
                "range": [[1, 0], [1, 0], [6, 8], [6, 8], [6, 8], [6, 8], [6, 8], [6, 8], [6, 8], [6, 8], [6, 8]]},
              "legend": {"orient": "none", "legendX": 18, "legendY": 9, "title": null, "symbolType": "M-4.3,0H4.3",
                "encode": {"labels": {"update": {"x": {"value": 174}, "align": {"value": "right"}}},
                  "symbols": {"update": {"x": {"value": 205.5}, "shape": {"signal": "datum.value === 'errorbars of mean MSD' ? 'M-4.3,0H4.3M-4.3,-0.8V0.8M4.3,-0.8V0.8M0,-0.8V0.8' : 'M-4.3,0H4.3'"}}}}}}
          }
        },
        {
          "data": {"name": "rightLines"},
          "mark": {"type": "line", "strokeWidth": 1.5},
          "encoding": {
            "x": {"field": "t", "type": "quantitative", "title": null,
              "axis": {"orient": "top", "values": [0, 10, 20, 30, 40, 50, 60, 70, 80, 90, 100], "labels": false,
                "tickSize": {"condition": {"test": "datum.value % 20 === 0", "value": -9}, "value": -5}}},
            "y": {"field": "v", "type": "quantitative", "title": null,
              "axis": {"orient": "right", "values": [0, 5, 10, 15, 20, 25, 30, 35, 40, 45, 50, 55, 60], "labels": false,
                "tickSize": {"condition": {"test": "datum.value % 10 === 0", "value": -9}, "value": -5}}},
            "color": {"field": "s", "type": "nominal"},
            "strokeDash": {"field": "s", "type": "nominal"}
          }
        }
      ]
    }
  ],
  "resolve": {
    "scale": {"x": "independent", "y": "independent", "color": "independent", "strokeDash": "independent"},
    "legend": {"color": "independent", "strokeDash": "independent"}
  },
  "config": {
    "font": "Liberation Sans",
    "view": {"stroke": "black", "strokeWidth": 2},
    "axis": {"domain": false, "grid": false, "labelFont": "Liberation Sans", "labelFontSize": 13, "labelFontWeight": "bold", "labelColor": "#000000", "tickColor": "#000000", "tickWidth": 1.5, "titleFont": "Liberation Sans", "titleFontSize": 15, "titleFontWeight": "bold", "titleColor": "#000000", "labelFlush": false, "labelOverlap": false},
    "legend": {"labelFont": "Liberation Sans", "labelFontSize": 16, "labelFontWeight": "bold", "labelColor": "#000000", "labelLimit": 400, "rowPadding": 4.5, "padding": 0, "symbolSize": 100, "symbolStrokeWidth": 1.5},
    "title": {"font": "Liberation Sans", "fontSize": 17, "fontWeight": "bold", "color": "#000000", "frame": "group", "offset": 17}
  }
}
